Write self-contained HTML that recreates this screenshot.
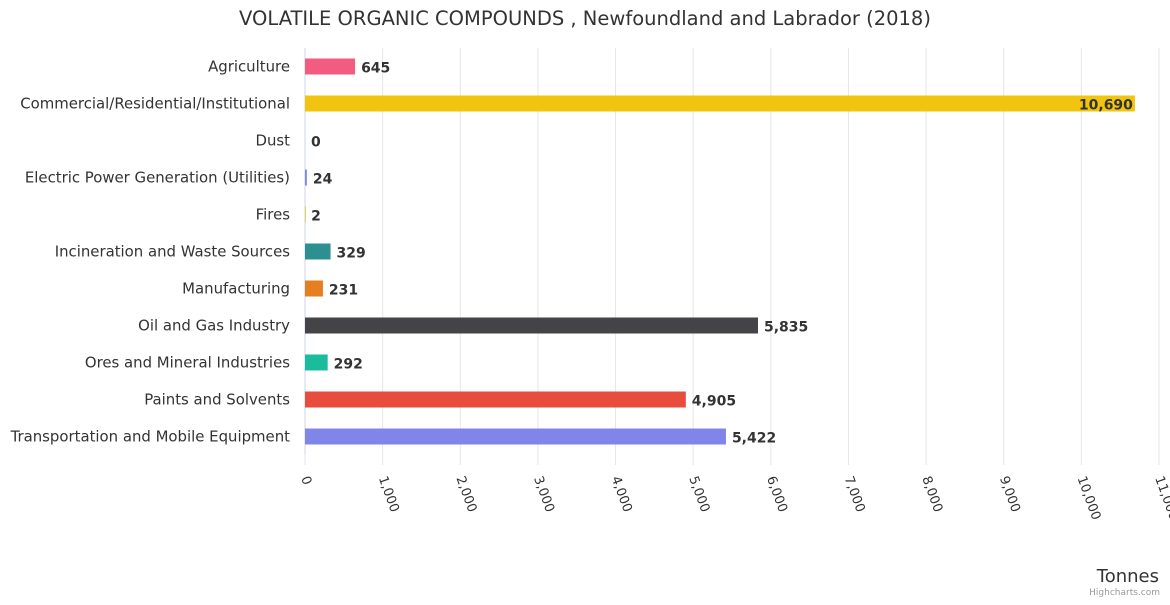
<!DOCTYPE html>
<html><head><meta charset="utf-8"><style>
body{margin:0;background:#fff;font-family:"Liberation Sans","DejaVu Sans",sans-serif}
svg text{font-family:"DejaVu Sans","Liberation Sans",sans-serif}
</style></head><body>
<svg id="c" width="1170" height="600" xmlns="http://www.w3.org/2000/svg">
<text x="585" y="25" text-anchor="middle" font-size="19.5" fill="#333">VOLATILE ORGANIC COMPOUNDS , Newfoundland and Labrador (2018)</text>
<g id="grid"></g><g id="bars"></g><g id="ylab"></g><g id="xlab"></g>
<text x="1159" y="582" text-anchor="end" font-size="18" fill="#333">Tonnes</text>
<text x="1160" y="595" text-anchor="end" font-size="9" fill="#999">Highcharts.com</text>
</svg>
<script>
const categories=["Agriculture","Commercial/Residential/Institutional","Dust","Electric Power Generation (Utilities)","Fires","Incineration and Waste Sources","Manufacturing","Oil and Gas Industry","Ores and Mineral Industries","Paints and Solvents","Transportation and Mobile Equipment"];
const values=[645,10690,0,24,2,329,231,5835,292,4905,5422];
const colors=["#f15c80","#f1c40f","#2b908f","#8085e9","#e4d354","#2b908f","#e67e22","#434348","#1abc9c","#e74c3c","#8085e9"];
const ticks=[0,1000,2000,3000,4000,5000,6000,7000,8000,9000,10000,11000];
const NS="http://www.w3.org/2000/svg";
const x0=305,x1=1159,yTop=48,yBot=455,xmax=11000;
const xs=v=>x0+v/xmax*(x1-x0);
const rowH=(yBot-yTop)/categories.length;
const ys=i=>yTop+rowH*(i+0.5);
const fmt=v=>v.toLocaleString("en-US");
function mk(t,a,p){const e=document.createElementNS(NS,t);for(const k in a)e.setAttribute(k,a[k]);p.appendChild(e);return e;}
const g=document.getElementById("grid"),b=document.getElementById("bars"),yl=document.getElementById("ylab"),xl=document.getElementById("xlab");
ticks.forEach(t=>{
 const l=mk("line",{x1:xs(t),x2:xs(t),y1:yTop,y2:yBot+10,stroke:"#e6e6e6","stroke-width":1},g);
 
 
 const tx=mk("text",{x:xs(t)-4,y:478,"font-size":13,fill:"#333",transform:`rotate(70 ${xs(t)-4} 478)`},xl);
 tx.textContent=fmt(t);
 
 
});
const ax=mk("line",{x1:x0,x2:x0,y1:yTop,y2:yBot,stroke:"#ccd6eb"},g);


categories.forEach((c,i)=>{
 const y=ys(i);
 const r=mk("rect",{x:x0,y:y-8,width:Math.max(xs(values[i])-x0,values[i]>0?1:0),height:16,fill:colors[i]},b);
 
 
 const lt=mk("text",{x:290,y:y+5,"text-anchor":"end","font-size":14.9,fill:"#333"},yl);
 lt.textContent=c;
 
 
 const inside=xs(values[i])+60>x1+10;
 const vt=mk("text",{x:inside?xs(values[i])-2:xs(values[i])+6,y:y+6,"text-anchor":inside?"end":"start","font-size":14,"font-weight":"bold",fill:"#333"},b);
 vt.textContent=fmt(values[i]);
 
 
});
</script>
</body></html>
